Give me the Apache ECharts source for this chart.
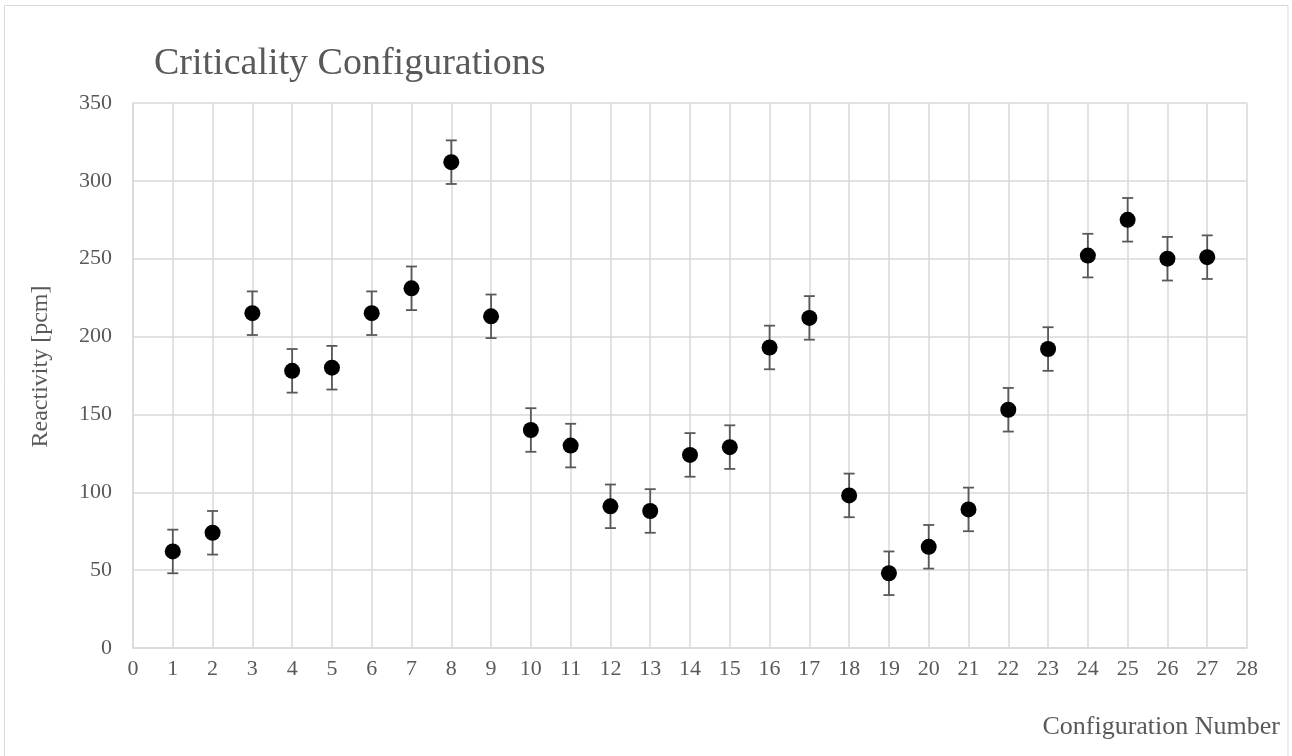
<!DOCTYPE html>
<html><head><meta charset="utf-8">
<script src="https://cdn.jsdelivr.net/npm/echarts@6/dist/echarts.min.js"></script>
<style>html,body{margin:0;padding:0;background:#fff}#c{width:1292px;height:756px}</style>
</head><body><div id="c"></div>
<script>
const configs = [1,2,3,4,5,6,7,8,9,10,11,12,13,14,15,16,17,18,19,20,21,22,23,24,25,26,27];
const reactivity = [62,74,215,178,180,215,231,312,213,140,130,91,88,124,129,193,212,98,48,65,89,153,192,252,275,250,251];
const uncertainty = [14,14,14,14,14,14,14,14,14,14,14,14,14,14,14,14,14,14,14,14,14,14,14,14,14,14,14];
const xTicks = {min:0, max:28, interval:1};
const yTicks = {min:0, max:350, interval:50};

const font = '"Liberation Serif","Times New Roman",serif';
const gray = '#595959';
const pts = configs.map((c,i)=>[c, reactivity[i]]);
const errs = configs.map((c,i)=>[c, reactivity[i]-uncertainty[i], reactivity[i]+uncertainty[i]]);

const chart = echarts.init(document.getElementById('c'), null, {renderer:'canvas'});
chart.setOption({
  animation:false,
  backgroundColor:'#fff',
  graphic:[{type:'rect', shape:{x:4.5,y:5.5,width:1283.5,height:760}, style:{fill:'none', stroke:'#d9d9d9', lineWidth:1}}],
  title:{text:'Criticality Configurations', left:149, top:40,
    textStyle:{fontFamily:font, fontSize:38, fontWeight:'normal', color:gray}},
  grid:{left:133, right:45, top:103, bottom:108},
  xAxis:{type:'value', min:xTicks.min, max:xTicks.max, interval:xTicks.interval,
    name:'Configuration Number', nameLocation:'end', nameGap:0,
    nameTextStyle:{fontFamily:font, fontSize:26, color:gray, align:'right', verticalAlign:'top', padding:[66,-33,0,0]},
    axisLine:{show:true, lineStyle:{color:'#d9d9d9', width:1.5}},
    axisTick:{show:false},
    axisLabel:{fontFamily:font, fontSize:22, color:gray, margin:10},
    splitLine:{show:true, lineStyle:{color:'#d9d9d9', width:1.5}}},
  yAxis:{type:'value', min:yTicks.min, max:yTicks.max, interval:yTicks.interval,
    name:'Reactivity [pcm]', nameLocation:'middle', nameGap:80, nameRotate:90,
    nameTextStyle:{fontFamily:font, fontSize:24, color:gray, padding:[0,0,0,18]},
    axisLine:{show:true, lineStyle:{color:'#d9d9d9', width:1.5}},
    axisTick:{show:false},
    axisLabel:{fontFamily:font, fontSize:22, color:gray, margin:21},
    splitLine:{show:true, lineStyle:{color:'#d9d9d9', width:1.5}}},
  series:[
    {type:'custom', data:errs, z:2,
      renderItem:function(params, api){
        const x = api.value(0);
        const lo = api.coord([x, api.value(1)]);
        const hi = api.coord([x, api.value(2)]);
        const w = 5.5;
        const st = {stroke:gray, lineWidth:1.8, fill:'none'};
        return {type:'group', children:[
          {type:'line', shape:{x1:lo[0],y1:lo[1],x2:hi[0],y2:hi[1]}, style:st},
          {type:'line', shape:{x1:lo[0]-w,y1:lo[1],x2:lo[0]+w,y2:lo[1]}, style:st},
          {type:'line', shape:{x1:hi[0]-w,y1:hi[1],x2:hi[0]+w,y2:hi[1]}, style:st}
        ]};
      }},
    {type:'scatter', data:pts, symbol:'circle', symbolSize:16, z:3,
      itemStyle:{color:'#000', opacity:1}}
  ]
});
</script></body></html>
